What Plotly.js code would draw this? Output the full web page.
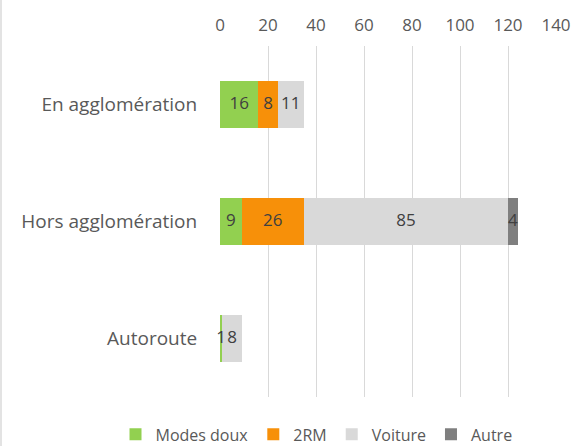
<!DOCTYPE html>
<html>
<head>
<meta charset="utf-8">
<script src="https://cdn.plot.ly/plotly-3.0.1.min.js"></script>
<style>
  html, body { margin: 0; padding: 0; background: #fff; }
  #chart { width: 580px; height: 446px; box-sizing: border-box; border-left: 2px solid #e3e3e3; }
</style>
</head>
<body>
<div id="chart"></div>
<script>
// catégories (de haut en bas)
let categories = ["En agglomération", "Hors agglomération", "Autoroute"];

// valeurs par mode
let modesDoux = [16, 9, 1];
let deuxRM = [8, 26, 0];
let voiture = [11, 85, 8];
let autre = [0, 4, 0];

let seriesNames = ["Modes doux", "2RM", "Voiture", "Autre"];
let seriesColors = ["#92d050", "#f79009", "#d9d9d9", "#7f7f7f"];

let allSeries = [modesDoux, deuxRM, voiture, autre];
let font = "'Open Sans', sans-serif";

let data = [];

// barres empilées
for (let s = 0; s < allSeries.length; s++) {
    data.push({
        type: "bar",
        orientation: "h",
        name: seriesNames[s],
        x: allSeries[s],
        y: categories,
        marker: { color: seriesColors[s] },
        hoverinfo: "x+name"
    });
}

// étiquettes au milieu de chaque segment
let base = [0, 0, 0];
for (let s = 0; s < allSeries.length; s++) {
    let lab = { type: "scatter", mode: "text", showlegend: false, hoverinfo: "skip",
        x: [], y: [], text: [], cliponaxis: false,
        textfont: { family: font, size: 17, color: "#404040" } };
    for (let i = 0; i < categories.length; i++) {
        let v = allSeries[s][i];
        if (v > 0) {
            lab.x.push(base[i] + v / 2);
            lab.y.push(categories[i]);
            lab.text.push(String(v));
        }
        base[i] += v;
    }
    data.push(lab);
}

let layout = {
    width: 578,
    height: 446,
    margin: { l: 218, r: 24, t: 46, b: 49, autoexpand: false },
    paper_bgcolor: "#fff",
    plot_bgcolor: "#fff",
    barmode: "stack",
    bargap: 0.6,
    font: { family: font, size: 16, color: "#595959" },
    xaxis: {
        side: "top",
        range: [0, 140],
        dtick: 20,
        showgrid: true,
        gridcolor: "#d9d9d9",
        gridwidth: 1,
        zeroline: false,
        showline: false,
        ticks: "",
        ticklabelstandoff: 11,
        tickfont: { size: 17 },
        automargin: false,
        fixedrange: true
    },
    yaxis: {
        type: "category",
        autorange: "reversed",
        showgrid: false,
        zeroline: false,
        showline: false,
        ticks: "outside",
        ticklen: 18,
        tickcolor: "rgba(0,0,0,0)",
        tickfont: { size: 19 },
        automargin: false,
        fixedrange: true
    },
    showlegend: true,
    legend: {
        orientation: "h",
        x: -0.311,
        xanchor: "left",
        y: -0.058,
        yanchor: "top",
        bgcolor: "rgba(0,0,0,0)",
        traceorder: "normal",
        font: { family: font, size: 16, color: "#595959" },
        itemwidth: 30
    }
};

Plotly.newPlot("chart", data, layout, { displayModeBar: false, staticPlot: true });
</script>
</body>
</html>
